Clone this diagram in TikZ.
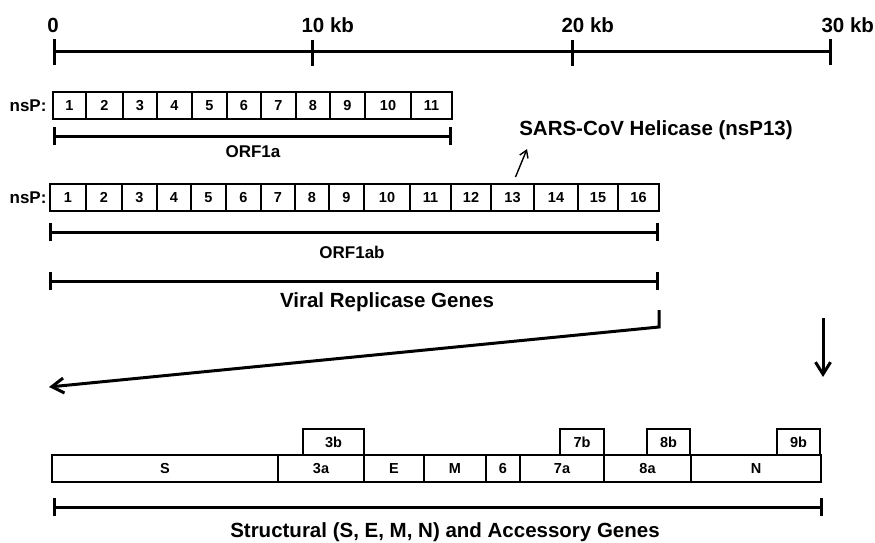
\documentclass[tikz,border=0pt]{standalone}
\usepackage{fontspec}
\setmainfont{Liberation Sans}
\usetikzlibrary{arrows.meta}
\begin{document}
\begin{tikzpicture}[x=1pt,y=-1pt,
    big/.style={font=\fontsize{20.5}{24}\selectfont\bfseries},
    small/.style={font=\fontsize{17}{20}\selectfont\bfseries},
    tiny/.style={font=\fontsize{14.5}{16}\selectfont\bfseries},
    gbox/.style={draw,rectangle,line width=2pt,inner sep=0pt,tiny},
    span/.style={line width=3pt,{Bar[width=18pt]}-{Bar[width=18pt]}},
    conn/.style={line width=3pt,-{Straight Barb[length=12pt,width=15pt]}}]
\useasboundingbox (0,0) rectangle (875,543);
% Echelle
\draw[line width=3pt,{Bar[width=26pt]}-{Bar[width=26pt]}] (53,52) -- (832,52);
\foreach \t in {312,572} \draw[line width=3pt] (\t,40) -- (\t,66);
\node[big] (k0) at (53,25) {0};
\foreach \t/\n in {312/10,572/20,832/30}
  \node[big,anchor=west] (k\n) at (\t-14,25) {\n{} kb};
% ORF1a
\node[small,anchor=east] (nspA) at (50,105.5) {nsP:};
\foreach \a/\b [count=\i] in {53/86,86/123,123/157,157/192,192/227,227/261,261/296,296/330,330/365,365/411,411/452}
  \node[gbox,minimum width={(\b-\a)*1pt},minimum height=27pt] (a\i) at ({(\a+\b)/2},105.5) {\i};
\draw[span] (53,136) -- (452,136);
\node[small] (orfa) at (253,152) {ORF1a};
% ORF1ab
\node[small,anchor=east] (nspB) at (50,197.5) {nsP:};
\foreach \a/\b [count=\i] in {50/86,86/122,122/157,157/191,191/226,226/261,261/295,295/329,329/364,364/410,410/451,451/491,491/534,534/578,578/618,618/659}
  \node[gbox,minimum width={(\b-\a)*1pt},minimum height=27pt] (b\i) at ({(\a+\b)/2},197.5) {\i};
\draw[span] (49,232) -- (659,232);
\node[small] (orfab) at (352,252) {ORF1ab};
% Helicase
\node[big] (heli) at (656,130) {SARS-CoV Helicase (nsP13)};
\draw[line width=1.4pt,-{Straight Barb[length=7pt,width=9pt]}] ([xshift=3pt,yshift=6pt]b13.north) -- ([xshift=-129pt,yshift=-6pt]heli.south);
% Replicase
\coordinate (vL) at (49,281);
\coordinate (vR) at (659,281);
\draw[span] (vL) -- (vR);
\node[big] (repl) at (387,302) {Viral Replicase Genes};
% Fleches
\coordinate (zoomL) at (49,387);
\coordinate (dTop) at (823,318);
\coordinate (dBot) at (823,377);
\draw[conn] ([yshift=-29pt]vR) -- ++(0,17) -- (zoomL);
\draw[conn] (dTop) -- (dBot);
% Genes structuraux
\foreach \a/\b/\t [count=\i] in {52/278/S,278/364/3a,364/424/E,424/486/M,486/520/6,520/604/7a,604/691/8a,691/821/N}
  \node[gbox,minimum width={(\b-\a)*1pt},minimum height=27pt] (g\i) at ({(\a+\b)/2},468.5) {\t};
\foreach \a/\b/\t in {303/364/3b,560/604/7b,647/690/8b,777/820/9b}
  \node[gbox,minimum width={(\b-\a)*1pt},minimum height=26pt] (u\t) at ({(\a+\b)/2},442) {\t};
\draw[span] (53,507) -- (823,507);
\node[big] (struct) at (445,532) {Structural (S, E, M, N) and Accessory Genes};
\end{tikzpicture}
\end{document}
